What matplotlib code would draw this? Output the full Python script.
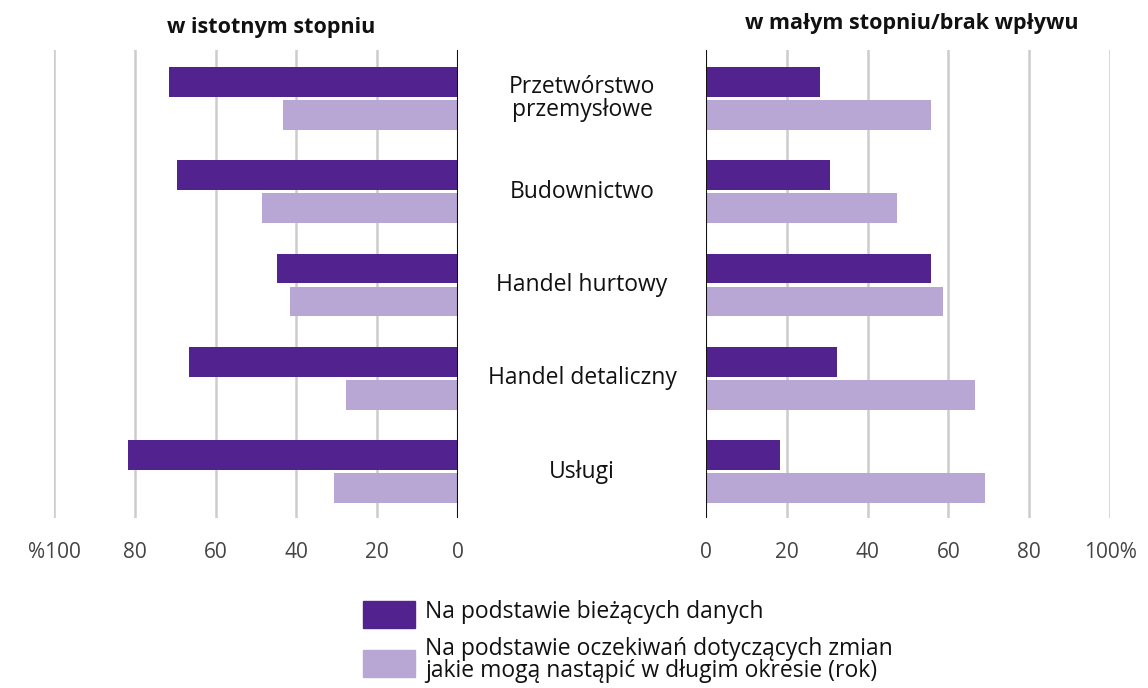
import matplotlib
matplotlib.use("Agg")
import matplotlib.pyplot as plt
from matplotlib.patches import Rectangle
import numpy as np

categories = ["Przetwórstwo\nprzemysłowe", "Budownictwo", "Handel hurtowy",
              "Handel detaliczny", "Usługi"]
sig_current = [71.5, 69.5, 44.7, 66.5, 81.6]
sig_expected = [43.4, 48.4, 41.7, 27.8, 30.8]
low_current = [28.3, 30.8, 55.6, 32.5, 18.4]
low_expected = [55.8, 47.4, 58.6, 66.7, 69.0]
ticks = [0, 20, 40, 60, 80, 100]
left_ticklabels = ["0", "20", "40", "60", "80", "%100"]
right_ticklabels = ["0", "20", "40", "60", "80", "100%"]
legend_labels = ["Na podstawie bieżących danych",
                 "Na podstawie oczekiwań dotyczących zmian\njakie mogą nastąpić w długim okresie (rok)"]
titles = ["w istotnym stopniu", "w małym stopniu/brak wpływu"]

DARK = "#52228f"
LIGHT = "#b8a6d4"
GRID = "#cccccc"
FONT = "Open Sans"

W, H = 1148, 688
fig = plt.figure(figsize=(W / 100, H / 100), dpi=100)

def px_axes(x0, x1, y0, y1):
    return fig.add_axes([x0 / W, 1 - y1 / H, (x1 - x0) / W, (y1 - y0) / H])

axL = px_axes(54, 458, 50, 518)
axR = px_axes(706, 1110, 50, 518)

y = np.arange(len(categories))
off = 0.177
bh = 0.32

axL.barh(y - off, sig_current, height=bh, color=DARK, zorder=3)
axL.barh(y + off, sig_expected, height=bh, color=LIGHT, zorder=3)
axR.barh(y - off, low_current, height=bh, color=DARK, zorder=3)
axR.barh(y + off, low_expected, height=bh, color=LIGHT, zorder=3)

axL.set_xlim(100, 0)
axR.set_xlim(0, 100)
for ax, labels in ((axL, left_ticklabels), (axR, right_ticklabels)):
    ax.set_ylim(4.5, -0.52)
    ax.set_xticks(ticks)
    ax.set_xticklabels(labels, fontsize=15, color="#444444", fontfamily=FONT)
    ax.tick_params(axis="x", length=0, pad=17)
    ax.set_yticks([])
    for s in ax.spines.values():
        s.set_visible(False)
    for t in ticks:
        if t == 0:
            ax.axvline(t, color="#111111", lw=1.5, zorder=4)
        else:
            ax.axvline(t, color=GRID, lw=1.8, zorder=1)

# category labels in the middle
for i, c in enumerate(categories):
    fig.text(582 / W, 1 - (98.5 + i * 93.25) / H, c, ha="center", va="center",
             fontsize=16.5, fontfamily=FONT, color="#111111", linespacing=0.9)

fig.text(271 / W, 1 - 27 / H, titles[0], ha="center", va="center",
         fontsize=15.5, fontweight="bold", fontfamily=FONT, color="#111111")
fig.text(912 / W, 1 - 23 / H, titles[1], ha="center", va="center",
         fontsize=15.5, fontweight="bold", fontfamily=FONT, color="#111111")

# legend
for (yt, col, lab, ty) in ((601, DARK, legend_labels[0], 612),
                           (650, LIGHT, legend_labels[1], 660)):
    fig.patches.append(Rectangle((363 / W, 1 - (yt + 27) / H), 52 / W, 27 / H,
                                 transform=fig.transFigure, color=col))
    fig.text(425 / W, 1 - ty / H, lab, ha="left", va="center", fontsize=16.5,
             fontfamily=FONT, color="#111111", linespacing=0.88)

fig.savefig("out.png", dpi=100)
